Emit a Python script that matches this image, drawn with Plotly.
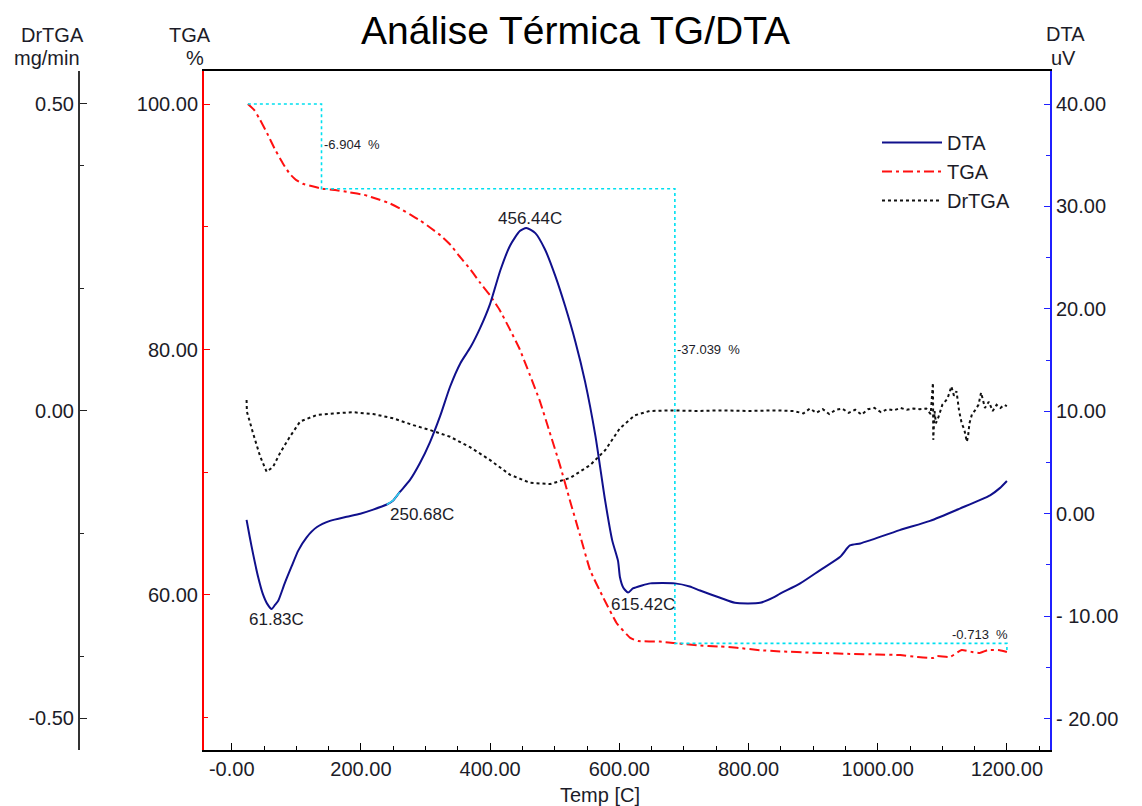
import plotly.graph_objects as go

# ---------------- data ----------------
# DTA signal (uV) vs temperature (C)
dta_temp = [23, 28, 33, 41, 48, 55, 61.8, 67, 72, 82, 93, 103, 116, 132, 152, 178, 199, 219,
            240, 250, 260, 276, 291, 307, 323, 338, 354, 370, 385, 400, 416, 431, 446, 456,
            470, 485, 501, 516, 532, 547, 563, 578, 589, 598, 601, 606, 613.5, 621, 635, 648,
            686, 709, 725, 756, 779, 818, 838, 849, 880, 911, 942, 957, 973, 988, 1034, 1081,
            1127, 1174, 1189, 1200]
dta_uv = [-0.6, -2.3, -3.9, -6.2, -7.8, -8.8, -9.3, -8.9, -8.5, -6.8, -5.1, -3.6, -2.3, -1.3,
          -0.7, -0.3, 0.0, 0.4, 0.9, 1.3, 2.1, 3.3, 4.9, 7.0, 9.6, 12.4, 14.7, 16.3, 18.2,
          20.5, 23.8, 26.2, 27.6, 27.9, 27.4, 25.8, 23.2, 20.3, 16.8, 12.9, 7.6, 1.3, -2.6,
          -4.6, -6.2, -7.2, -7.7, -7.3, -7.0, -6.8, -6.8, -7.1, -7.5, -8.2, -8.7, -8.7, -8.2,
          -7.8, -6.8, -5.5, -4.2, -3.1, -2.9, -2.6, -1.6, -0.7, 0.5, 1.8, 2.5, 3.2]

# TGA mass (%) vs temperature (C)
tga_temp = [25, 35, 44, 55, 67, 80, 90, 100, 110, 125, 140, 160, 183, 205, 229, 245, 260, 276,
            292, 308, 323, 339, 354, 370, 385, 400, 415, 430, 446, 461, 477, 492, 508, 523,
            539, 555, 575, 596, 617, 629, 663, 689, 720, 756, 782, 818, 849, 900, 957, 1000,
            1035, 1061, 1086, 1092, 1112, 1130, 1146, 1158, 1171, 1189, 1200]
tga_pct = [100.0, 99.5, 98.7, 97.6, 96.3, 95.1, 94.3, 93.8, 93.5, 93.3, 93.1, 93.0, 92.8, 92.6,
           92.2, 91.9, 91.5, 91.0, 90.5, 89.9, 89.3, 88.5, 87.5, 86.5, 85.4, 84.4, 83.2, 81.7,
           80.0, 78.0, 75.8, 73.3, 70.6, 67.8, 64.9, 62.0, 59.8, 57.7, 56.5, 56.25, 56.2,
           56.06, 55.9, 55.8, 55.7, 55.5, 55.4, 55.3, 55.2, 55.15, 55.1, 54.95, 54.87, 55.03,
           54.95, 55.52, 55.36, 55.28, 55.52, 55.5, 55.36]

# DrTGA (mg/min) vs temperature (C)
drtga_temp = [23, 23.5, 33, 44, 54, 64, 75, 90, 106, 132, 157, 188, 219, 250, 281, 307, 338,
              369, 400, 431, 462, 493, 524, 555, 578, 601, 624, 647, 680, 720, 760, 800, 840,
              870, 885, 895, 905, 915, 925, 935, 945, 955, 965, 975, 985, 995, 1005, 1015,
              1025, 1035, 1045, 1055, 1065, 1075, 1082, 1085.5, 1086, 1088, 1090, 1094, 1100,
              1108, 1114, 1118, 1122, 1126, 1130, 1134, 1138, 1140, 1142, 1146, 1150, 1156,
              1160, 1166, 1172, 1178, 1184, 1190, 1196, 1200]
drtga = [0.018, -0.001, -0.036, -0.074, -0.099, -0.091, -0.068, -0.042, -0.017, -0.0065,
         -0.004, -0.002, -0.005, -0.012, -0.023, -0.031, -0.042, -0.059, -0.080, -0.104,
         -0.117, -0.119, -0.109, -0.088, -0.064, -0.028, -0.007, 0.0, 0.001, 0.0, 0.001, 0.0,
         0.001, 0.0, -0.004, 0.004, -0.003, 0.003, -0.005, 0.002, 0.004, -0.003, 0.002,
         -0.006, 0.003, 0.005, -0.002, 0.003, 0.001, 0.005, 0.002, 0.004, 0.003, 0.004,
         -0.005, 0.046, -0.047, 0.0, -0.02, -0.01, 0.01, 0.02, 0.040, 0.025, 0.032, 0.0,
         -0.02, -0.03, -0.05, -0.04, -0.02, -0.005, 0.0, 0.01, 0.03, 0.005, 0.015, 0.0, 0.01,
         0.005, 0.01, 0.008]

# mass-loss steps (TGA analysis)
step_bounds = [25, 139, 686, 1200]
step_losses = [-6.904, -37.039, -0.713]
step_labels = ["-6.904  %", "-37.039  %", "-0.713  %"]

# DTA peak temperatures
peak_temps = [61.83, 250.68, 456.44, 615.42]
peak_labels = ["61.83C", "250.68C", "456.44C", "615.42C"]

x_ticks = [0, 200, 400, 600, 800, 1000, 1200]
x_ticktext = ["-0.00", "200.00", "400.00", "600.00", "800.00", "1000.00", "1200.00"]

# ---------------- figure ----------------
W, H = 1142, 806
FONT = "Arial, Liberation Sans, sans-serif"
TXT = "#1c1c28"


def px(x):
    return x / W


def py(y):
    return 1 - y / H


fig = go.Figure()

fig.add_trace(go.Scatter(x=dta_temp, y=dta_uv, yaxis="y2", mode="lines", name="DTA",
                         line=dict(color="#10108c", width=2, shape="spline", smoothing=0.6)))
fig.add_trace(go.Scatter(x=tga_temp, y=tga_pct, yaxis="y", mode="lines", name="TGA",
                         line=dict(color="#ff1010", width=2, dash="10px,4px,3px,4px",
                                   shape="spline", smoothing=0.4)))
fig.add_trace(go.Scatter(x=drtga_temp, y=drtga, yaxis="y3", mode="lines", name="DrTGA",
                         line=dict(color="#111111", width=2, dash="3px,3px")))

# highlighted onset segment on the DTA curve
seg = [(t, v) for t, v in zip(dta_temp, dta_uv) if 225 <= t <= 262]
fig.add_trace(go.Scatter(x=[s[0] for s in seg], y=[s[1] for s in seg], yaxis="y2",
                         mode="lines", showlegend=False, hoverinfo="skip",
                         line=dict(color="#30d8f0", width=1.5)))

# step construction for the mass-loss analysis
levels = [100.0]
for d in step_losses:
    levels.append(levels[-1] + d)
sx, sy = [step_bounds[0]], [levels[0]]
for i in range(len(step_losses)):
    sx += [step_bounds[i + 1], step_bounds[i + 1]]
    sy += [levels[i], levels[i + 1]]
fig.add_trace(go.Scatter(x=sx, y=sy, yaxis="y", mode="lines", showlegend=False,
                         hoverinfo="skip",
                         line=dict(color="#00e0f0", width=1.6, dash="3px,3px")))

ann = []
# step labels
ann.append(dict(x=step_bounds[1], y=96.7, xref="x", yref="y", text=step_labels[0],
                showarrow=False, xanchor="left", font=dict(size=13, color=TXT, family=FONT)))
ann.append(dict(x=step_bounds[2], y=80.0, xref="x", yref="y", text=step_labels[1],
                showarrow=False, xanchor="left", font=dict(size=13, color=TXT, family=FONT)))
ann.append(dict(x=1204, y=56.8, xref="x", yref="y", text=step_labels[2],
                showarrow=False, xanchor="right", font=dict(size=13, color=TXT, family=FONT)))

# peak labels
peak_pos = [(70, -10.3, "center"), (242, -0.1, "left"), (462, 28.8, "center"), (637, -8.9, "center")]
for (lx, ly, anc), lab in zip(peak_pos, peak_labels):
    ann.append(dict(x=lx, y=ly, xref="x", yref="y2", text=lab, showarrow=False,
                    xanchor=anc, font=dict(size=17, color=TXT, family=FONT)))

# title and axis headings
ann.append(dict(x=px(575), y=py(30), xref="paper", yref="paper", text="Análise Térmica TG/DTA",
                showarrow=False, yanchor="middle",
                font=dict(size=39, color="#000000", family=FONT)))
for text, x, y, anc in [("DrTGA", 53, 35, "center"), ("mg/min", 12, 58, "left"),
                        ("TGA", 190, 35, "center"), ("%", 195, 58, "center"),
                        ("DTA", 1065, 34, "center"), ("uV", 1063, 58, "center"),
                        ("Temp [C]", 600, 795, "center")]:
    ann.append(dict(x=px(x), y=py(y), xref="paper", yref="paper", text=text,
                    showarrow=False, xanchor=anc, yanchor="middle",
                    font=dict(size=20, color=TXT, family=FONT)))

xdom = [px(204), px(1050)]
ydom = [py(750), py(71)]
tickfont = dict(size=20, color=TXT, family=FONT)

fig.update_layout(
    width=W, height=H,
    margin=dict(l=0, r=0, t=0, b=0),
    paper_bgcolor="white", plot_bgcolor="white",
    showlegend=True,
    legend=dict(x=px(877), y=py(123), xanchor="left", yanchor="top",
                font=dict(size=20, color=TXT, family=FONT),
                bgcolor="rgba(0,0,0,0)", tracegroupgap=0, itemwidth=60),
    annotations=ann,
    xaxis=dict(domain=xdom, range=[-42.9, 1266.7], tickvals=x_ticks, ticktext=x_ticktext,
               ticks="inside", ticklen=7, tickcolor="#000", showline=True, linecolor="#000",
               linewidth=2, mirror=True, showgrid=False, zeroline=False, tickfont=tickfont,
               minor=dict(tickvals=[t for t in range(-0, 1251, 50) if t % 200],
                          ticks="inside", ticklen=4, tickcolor="#000"),
               anchor="y"),
    yaxis=dict(domain=ydom, range=[47.37, 102.69], tickvals=[60, 80, 100],
               ticktext=["60.00", "80.00", "100.00"], ticks="inside", ticklen=6,
               tickcolor="#ff0000", showline=True, linecolor="#ff0000", linewidth=2,
               showgrid=False, zeroline=False, tickfont=tickfont,
               minor=dict(tickvals=[50, 70, 90], ticks="inside", ticklen=4,
                          tickcolor="#ff0000"),
               anchor="x"),
    yaxis2=dict(overlaying="y", side="right", anchor="x", range=[-23.07, 43.23],
                tickvals=[-20, -10, 0, 10, 20, 30, 40],
                ticktext=["- 20.00", "- 10.00", "0.00", "10.00", "20.00", "30.00", "40.00"],
                ticks="inside", ticklen=6, tickcolor="#2020ff", showline=True,
                linecolor="#2020ff", linewidth=2, showgrid=False, zeroline=False,
                tickfont=tickfont,
                minor=dict(tickvals=[-15, -5, 5, 15, 25, 35], ticks="inside", ticklen=4,
                           tickcolor="#2020ff")),
    yaxis3=dict(overlaying="y", side="left", anchor="free", position=px(79),
                range=[-0.5521, 0.5537], tickvals=[-0.5, 0.0, 0.5],
                ticktext=["-0.50", "0.00", "0.50"], ticks="inside", ticklen=7,
                tickcolor="#222", showline=True, linecolor="#333", linewidth=2,
                showgrid=False, zeroline=False, tickfont=tickfont,
                minor=dict(tickvals=[-0.4, -0.2, 0.2, 0.4], ticks="inside", ticklen=4,
                           tickcolor="#222")),
)

fig.write_html("out.html")
